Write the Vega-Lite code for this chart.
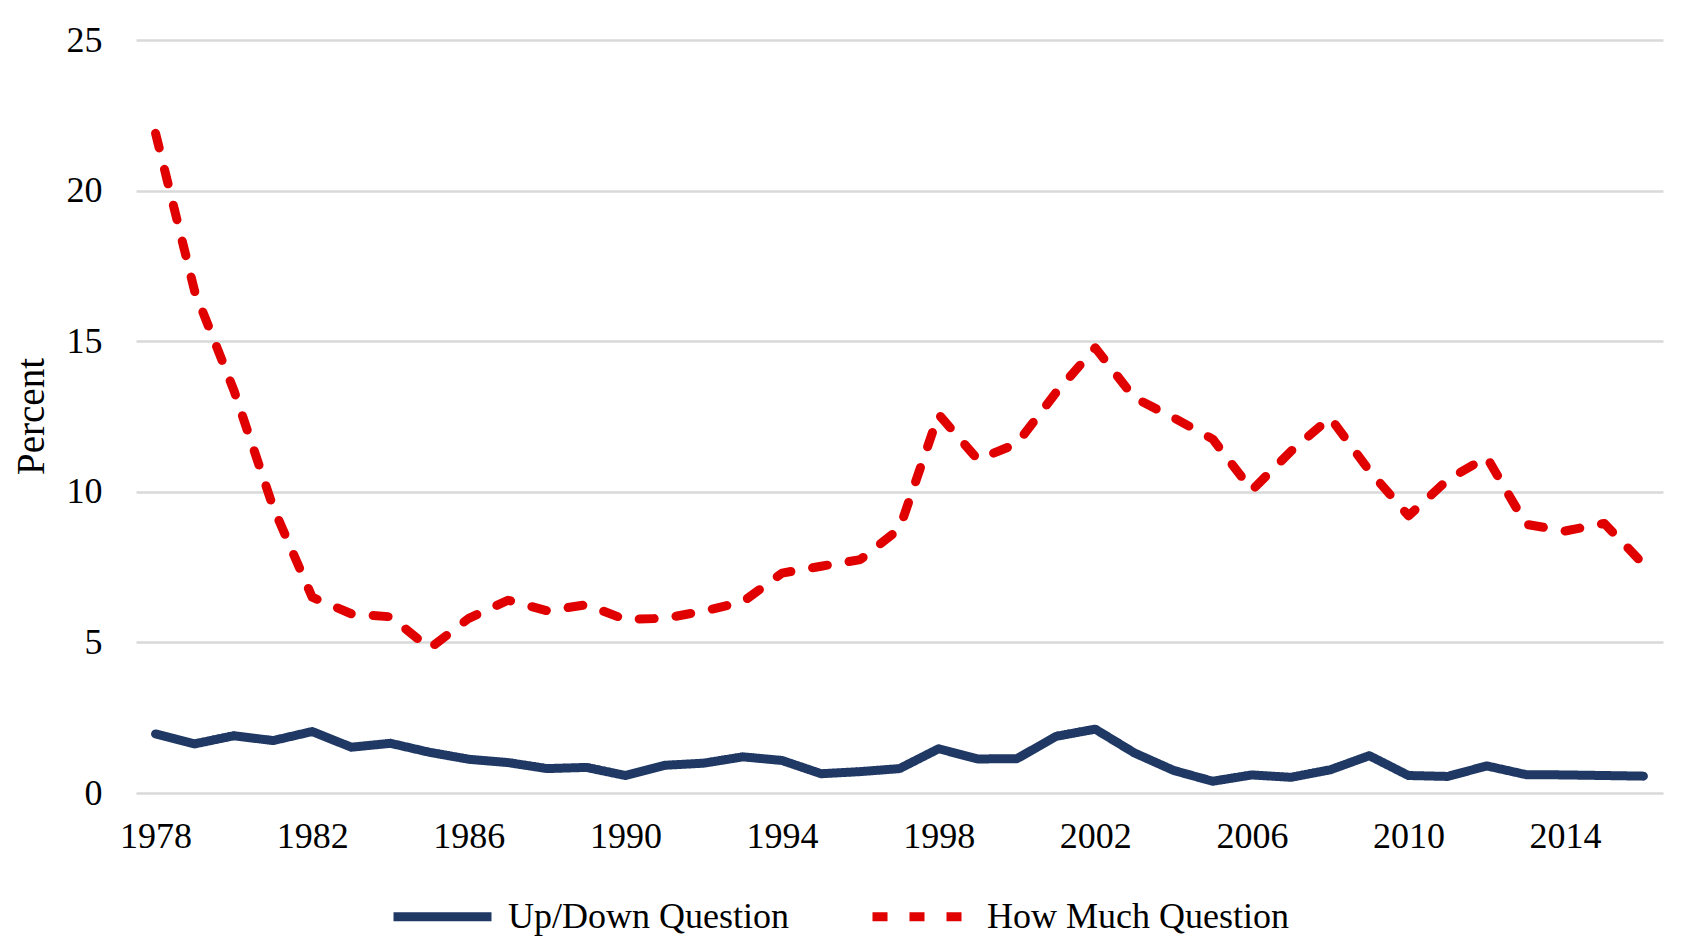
{
  "$schema": "https://vega.github.io/schema/vega-lite/v6.json",
  "width": 1527,
  "height": 753,
  "autosize": {"type": "none"},
  "padding": {"left": 136, "top": 40, "right": 19, "bottom": 159},
  "background": "white",
  "config": {
    "view": {"stroke": null},
    "font": "Liberation Serif",
    "axis": {"labelFont": "Liberation Serif", "titleFont": "Liberation Serif", "labelColor": "#000000", "titleColor": "#000000"},
    "legend": {"labelFont": "Liberation Serif", "labelColor": "#000000"}
  },
  "data": {
    "values": [
      {"year": 1978, "series": "Up/Down Question", "value": 1.96},
      {"year": 1979, "series": "Up/Down Question", "value": 1.63},
      {"year": 1980, "series": "Up/Down Question", "value": 1.90},
      {"year": 1981, "series": "Up/Down Question", "value": 1.74},
      {"year": 1982, "series": "Up/Down Question", "value": 2.04},
      {"year": 1983, "series": "Up/Down Question", "value": 1.52},
      {"year": 1984, "series": "Up/Down Question", "value": 1.65},
      {"year": 1985, "series": "Up/Down Question", "value": 1.35},
      {"year": 1986, "series": "Up/Down Question", "value": 1.12},
      {"year": 1987, "series": "Up/Down Question", "value": 1.01},
      {"year": 1988, "series": "Up/Down Question", "value": 0.81},
      {"year": 1989, "series": "Up/Down Question", "value": 0.85},
      {"year": 1990, "series": "Up/Down Question", "value": 0.58},
      {"year": 1991, "series": "Up/Down Question", "value": 0.92},
      {"year": 1992, "series": "Up/Down Question", "value": 0.99},
      {"year": 1993, "series": "Up/Down Question", "value": 1.20},
      {"year": 1994, "series": "Up/Down Question", "value": 1.08},
      {"year": 1995, "series": "Up/Down Question", "value": 0.64},
      {"year": 1996, "series": "Up/Down Question", "value": 0.71},
      {"year": 1997, "series": "Up/Down Question", "value": 0.81},
      {"year": 1998, "series": "Up/Down Question", "value": 1.47},
      {"year": 1999, "series": "Up/Down Question", "value": 1.13},
      {"year": 2000, "series": "Up/Down Question", "value": 1.14},
      {"year": 2001, "series": "Up/Down Question", "value": 1.88},
      {"year": 2002, "series": "Up/Down Question", "value": 2.12},
      {"year": 2003, "series": "Up/Down Question", "value": 1.33},
      {"year": 2004, "series": "Up/Down Question", "value": 0.75},
      {"year": 2005, "series": "Up/Down Question", "value": 0.39},
      {"year": 2006, "series": "Up/Down Question", "value": 0.60},
      {"year": 2007, "series": "Up/Down Question", "value": 0.52},
      {"year": 2008, "series": "Up/Down Question", "value": 0.77},
      {"year": 2009, "series": "Up/Down Question", "value": 1.24},
      {"year": 2010, "series": "Up/Down Question", "value": 0.58},
      {"year": 2011, "series": "Up/Down Question", "value": 0.55},
      {"year": 2012, "series": "Up/Down Question", "value": 0.90},
      {"year": 2013, "series": "Up/Down Question", "value": 0.61},
      {"year": 2014, "series": "Up/Down Question", "value": 0.60},
      {"year": 2015, "series": "Up/Down Question", "value": 0.58},
      {"year": 2016, "series": "Up/Down Question", "value": 0.56},
      {"year": 1978, "series": "How Much Question", "value": 21.9},
      {"year": 1979, "series": "How Much Question", "value": 16.65},
      {"year": 1980, "series": "How Much Question", "value": 13.37},
      {"year": 1981, "series": "How Much Question", "value": 9.5},
      {"year": 1982, "series": "How Much Question", "value": 6.5},
      {"year": 1983, "series": "How Much Question", "value": 5.95},
      {"year": 1984, "series": "How Much Question", "value": 5.85},
      {"year": 1985, "series": "How Much Question", "value": 4.8},
      {"year": 1986, "series": "How Much Question", "value": 5.8},
      {"year": 1987, "series": "How Much Question", "value": 6.4},
      {"year": 1988, "series": "How Much Question", "value": 6.05},
      {"year": 1989, "series": "How Much Question", "value": 6.25},
      {"year": 1990, "series": "How Much Question", "value": 5.76},
      {"year": 1991, "series": "How Much Question", "value": 5.8},
      {"year": 1992, "series": "How Much Question", "value": 6.04},
      {"year": 1993, "series": "How Much Question", "value": 6.35},
      {"year": 1994, "series": "How Much Question", "value": 7.3},
      {"year": 1995, "series": "How Much Question", "value": 7.53},
      {"year": 1996, "series": "How Much Question", "value": 7.75},
      {"year": 1997, "series": "How Much Question", "value": 8.77},
      {"year": 1998, "series": "How Much Question", "value": 12.57},
      {"year": 1999, "series": "How Much Question", "value": 11.07},
      {"year": 2000, "series": "How Much Question", "value": 11.6},
      {"year": 2001, "series": "How Much Question", "value": 13.3},
      {"year": 2002, "series": "How Much Question", "value": 14.78},
      {"year": 2003, "series": "How Much Question", "value": 13.12},
      {"year": 2004, "series": "How Much Question", "value": 12.46},
      {"year": 2005, "series": "How Much Question", "value": 11.75},
      {"year": 2006, "series": "How Much Question", "value": 10.05},
      {"year": 2007, "series": "How Much Question", "value": 11.35},
      {"year": 2008, "series": "How Much Question", "value": 12.46},
      {"year": 2009, "series": "How Much Question", "value": 10.7},
      {"year": 2010, "series": "How Much Question", "value": 9.2},
      {"year": 2011, "series": "How Much Question", "value": 10.4},
      {"year": 2012, "series": "How Much Question", "value": 11.15},
      {"year": 2013, "series": "How Much Question", "value": 8.92},
      {"year": 2014, "series": "How Much Question", "value": 8.7},
      {"year": 2015, "series": "How Much Question", "value": 8.95},
      {"year": 2016, "series": "How Much Question", "value": 7.6}
    ]
  },
  "mark": {"type": "line", "strokeWidth": 9, "strokeCap": "round", "strokeJoin": "round"},
  "encoding": {
    "x": {
      "field": "year",
      "type": "quantitative",
      "scale": {"domain": [1977.5, 2016.5], "nice": false, "zero": false},
      "axis": {
        "title": null,
        "values": [1978, 1982, 1986, 1990, 1994, 1998, 2002, 2006, 2010, 2014],
        "format": "d",
        "grid": false,
        "domain": false,
        "ticks": false,
        "tickSize": 0,
        "labelFontSize": 36,
        "labelPadding": 26,
        "labelBaseline": "top",
        "labelFlush": false,
        "labelOverlap": false
      }
    },
    "y": {
      "field": "value",
      "type": "quantitative",
      "scale": {"domain": [0, 25], "nice": false},
      "axis": {
        "title": "Percent",
        "values": [0, 5, 10, 15, 20, 25],
        "grid": true,
        "gridColor": "#D9D9D9",
        "gridWidth": 2.5,
        "domain": false,
        "ticks": false,
        "tickSize": 0,
        "labelFontSize": 36,
        "labelPadding": 34,
        "labelFlush": false,
        "labelOverlap": false,
        "titleFontSize": 39,
        "titleFontWeight": "normal",
        "titleAngle": -90,
        "titleX": -93,
        "titleY": 376,
        "titleAlign": "center",
        "titleBaseline": "alphabetic"
      }
    },
    "color": {
      "field": "series",
      "type": "nominal",
      "sort": ["Up/Down Question", "How Much Question"],
      "scale": {"domain": ["Up/Down Question", "How Much Question"], "range": ["#203864", "#E00000"]},
      "legend": {
        "title": null,
        "orient": "none",
        "direction": "horizontal",
        "legendX": 253,
        "legendY": 823,
        "symbolType": "stroke",
        "symbolSize": 9604,
        "symbolStrokeWidth": 9,
        "labelFontSize": 36,
        "labelLimit": 0,
        "labelOffset": 12,
        "columnPadding": 65,
        "encoding": {"symbols": {"update": {"strokeCap": {"value": "round"}}}}
      }
    },
    "strokeDash": {
      "field": "series",
      "type": "nominal",
      "sort": ["Up/Down Question", "How Much Question"],
      "scale": {"domain": ["Up/Down Question", "How Much Question"], "range": [[1, 0], [15, 22]]},
      "legend": null
    }
  }
}
